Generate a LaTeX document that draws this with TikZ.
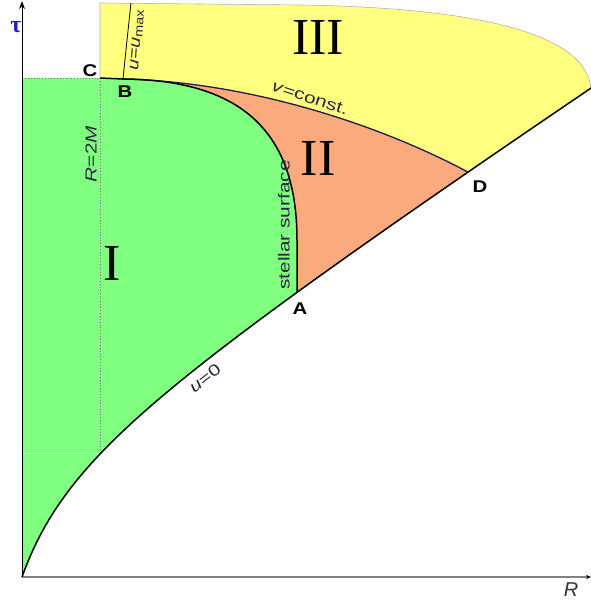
\documentclass[tikz,border=0pt]{standalone}
\usepackage{fontspec}
\setmainfont{Liberation Serif}
\setsansfont{Liberation Sans}
\usetikzlibrary{arrows.meta}
\definecolor{zgreen}{RGB}{128,255,128}
\definecolor{zorange}{RGB}{250,170,125}
\definecolor{zyellow}{RGB}{255,255,128}
\definecolor{zink}{RGB}{40,40,60}
\definecolor{zline}{RGB}{30,30,70}
\definecolor{ztau}{RGB}{30,30,200}
\tikzset{
  ptlabel/.style={font=\sffamily\bfseries\fontsize{17}{19}\selectfont, xscale=1.2, inner sep=0pt},
  curvelabel/.style={font=\sffamily\fontsize{16}{18}\selectfont, text=zink, inner sep=0pt},
  roman/.style={font=\fontsize{52}{56}\selectfont, inner sep=0pt},
  boundary/.style={line width=1.5pt, black},
  guide/.style={gray, dotted, line width=0.9pt},
}
\begin{document}
\begin{tikzpicture}[x=1pt,y=-1pt]
\useasboundingbox (0,0) rectangle (591,606);
\coordinate (O) at (22,577);
\coordinate (Cp) at (100,78);
\coordinate (Bp) at (123,79);
\coordinate (Ap) at (297,292.4);
\coordinate (Dp) at (468,172.1);
\begin{scope}
\clip (0,0) rectangle (591,606);
% yellow region III
\fill[zyellow] (100,3) -- (300,5) .. controls (500,8) and (591,40) .. (591,92) -- (591,577) -- (100,577) -- cycle;
\draw[gray!60, line width=0.6pt] (100,78) -- (100,3) -- (300,5) .. controls (500,8) and (591,40) .. (591,92);
% orange region II
\fill[zorange] (Bp) .. controls (250,82) and (380,125) .. (Dp) -- (468,577) -- (297,577) -- (297,240) .. controls (297,135) and (245,80) .. (Bp) -- cycle;
% green region I
\fill[zgreen] (22,78) -- (Cp) -- (Bp) .. controls (245,80) and (297,135) .. (297,240) -- (297,577) -- (22,577) -- cycle;
% white below u=0
\fill[white] plot[domain=0:580, samples=150, variable=\t] ({22+\t}, {577-0.66*\t-125*(\t/(\t+58.4))}) -- (602,577) -- cycle;
% guides
\draw[green!30!white, line width=0.8pt] (22,453) -- (100,453);
\draw[guide] (22,78) -- (Cp);
\draw[guide] (Cp) -- (100,453);
% u=0
\draw[boundary] plot[domain=0:580, samples=150, variable=\t] ({22+\t}, {577-0.66*\t-125*(\t/(\t+58.4))});
% v=const
\draw[zline, line width=1.3pt] (Bp) .. controls (250,82) and (380,125) .. (Dp);
% stellar surface
\draw[boundary] (Cp) -- (Bp) .. controls (245,80) and (297,135) .. (297,240) -- (Ap);
% u = u_max
\draw[black, line width=0.8pt] (Bp) .. controls (127,40) .. (131,3);
\end{scope}
% axes
\draw[gray, line width=1.2pt, -{Stealth[length=5pt,width=4pt,black]}] (O) -- (591,577);
\draw[black, line width=1pt, -{Stealth[length=8pt,width=6pt]}] (O) -- (22,1);
% labels
\node[font=\bfseries\fontsize{24}{26}\selectfont, text=ztau, inner sep=0pt] (tau) at (16,27) {τ};
\node[font=\sffamily\itshape\fontsize{20}{22}\selectfont, text=black!80] (Rlab) at (571,590) {R};
\node[ptlabel] (C) at (90,71) {C};
\node[ptlabel] (B) at (125,92) {B};
\node[ptlabel] (A) at (300,309) {A};
\node[ptlabel] (D) at (480,187) {D};
\node[roman] (III) at (318,37) {III};
\node[roman] (II) at (318,158) {II};
\node[roman] (I) at (112,263) {I};
\node[curvelabel, rotate=90, xscale=1.3] (ss) at (284,225) {stellar surface};
\node[curvelabel, rotate=90, xscale=1.3] (r2m) at (91,154) {\textit{R}=2\textit{M}};
\node[curvelabel, rotate=86, xscale=1.2] (umax) at (137,40) {\textit{u}=\textit{u}{\fontsize{12}{13}\selectfont\raisebox{-0.3ex}{max}}};
\node[curvelabel, rotate=-18, xscale=1.3] (vc) at (310,98) {\textit{v}=const.};
\node[curvelabel, rotate=38, xscale=1.3] (u0) at (205,378) {\textit{u}=0};
\end{tikzpicture}
\end{document}
